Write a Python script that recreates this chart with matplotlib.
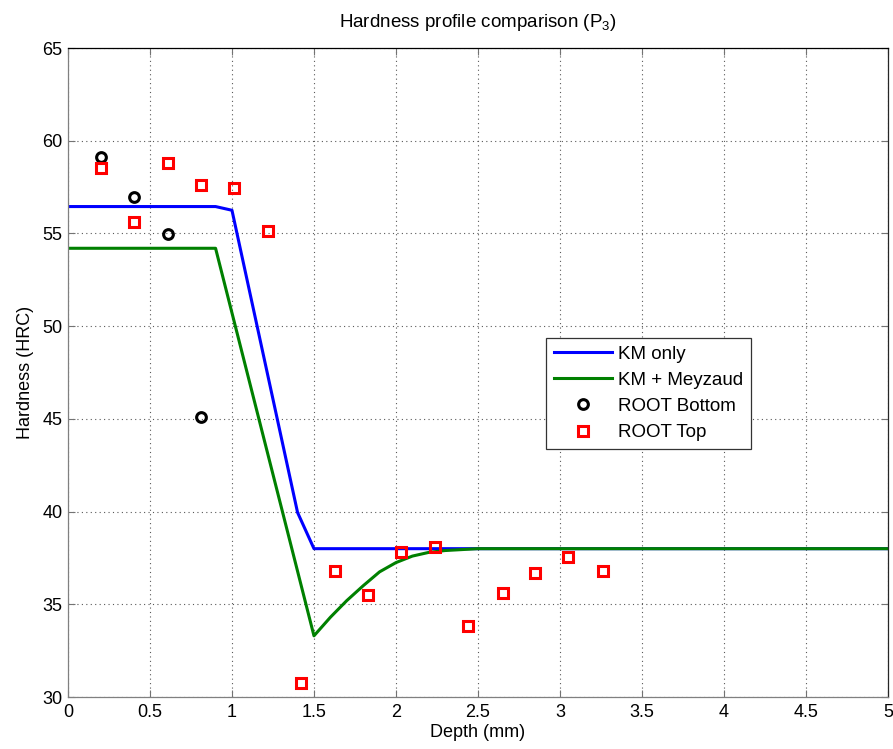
import numpy as np
import matplotlib
matplotlib.use("Agg")
import matplotlib.pyplot as plt

plt.rcParams["font.family"] = ["Liberation Sans", "DejaVu Sans"]
plt.rcParams["mathtext.default"] = "regular"

# model curves
km_x = [0.0, 0.9, 1.0, 1.4, 1.5, 5.0]
km_y = [56.45, 56.45, 56.25, 39.95, 38.0, 38.0]

mey_x = [0.0, 0.9, 1.5, 1.6, 1.7, 1.8, 1.9, 2.0, 2.1, 2.2, 2.3, 2.4, 2.5, 5.0]
mey_y = [54.2, 54.2, 33.3, 34.3, 35.2, 36.0, 36.75, 37.25, 37.6, 37.8, 37.9, 37.95, 38.0, 38.0]

# measurements
bottom_x = [0.2, 0.405, 0.61, 0.81]
bottom_y = [59.12, 56.96, 54.97, 45.12]

top_x = [0.2, 0.405, 0.61, 0.81, 1.015, 1.22, 1.42, 1.63, 1.83, 2.03, 2.24,
         2.44, 2.65, 2.85, 3.05, 3.26]
top_y = [58.53, 55.62, 58.8, 57.61, 57.45, 55.13, 30.75, 36.8, 35.5, 37.82,
         38.07, 33.83, 35.6, 36.69, 37.57, 36.81]

fig = plt.figure(figsize=(8.93, 7.49), dpi=100)
ax = fig.add_axes([0.0761, 0.0694, 0.9183, 0.8665])

ax.plot(km_x, km_y, color="#0000ff", lw=2.2, label="KM only")
ax.plot(mey_x, mey_y, color="#008000", lw=2.2, label="KM + Meyzaud")
ax.plot(bottom_x, bottom_y, "o", mfc="none", mec="black", ms=7, mew=2.2,
        label="ROOT Bottom")
ax.plot(top_x, top_y, "s", mfc="none", mec="#ff0000", ms=7, mew=2.2,
        label="ROOT Top")

ax.set_xlim(0, 5)
ax.set_ylim(30, 65)
ax.set_xticks(np.arange(0, 5.01, 0.5))
ax.set_xticklabels(["0", "0.5", "1", "1.5", "2", "2.5", "3", "3.5", "4", "4.5", "5"])
ax.set_yticks(np.arange(30, 66, 5))
ax.tick_params(direction="in", top=True, right=True, labelsize=13,
               length=5, width=0.8, color="0.45")
ax.tick_params(axis="x", pad=5)
ax.tick_params(axis="y", pad=4)
ax.grid(True, linestyle=(0, (1, 3)), color="0.35", linewidth=0.8)
ax.spines["left"].set_color("0.5")
ax.spines["bottom"].set_color("0.5")
ax.spines["top"].set_color("black")
ax.spines["right"].set_color("0.15")
for s in ax.spines.values():
    s.set_linewidth(0.9)

ax.set_xlabel("Depth (mm)", fontsize=13, labelpad=2)
ax.set_ylabel("Hardness (HRC)", fontsize=13, labelpad=6)
ax.set_title("Hardness profile comparison (P$_3$)", fontsize=13.5, pad=15)

leg = ax.legend(loc="upper left", bbox_to_anchor=(0.583, 0.553),
                borderaxespad=0, fancybox=False, framealpha=1,
                edgecolor="0.2", fontsize=13.5, handlelength=3.1,
                handletextpad=0.35, labelspacing=0.48, borderpad=0.4)
leg.get_frame().set_linewidth(0.9)

fig.savefig("out.png", dpi=100)
